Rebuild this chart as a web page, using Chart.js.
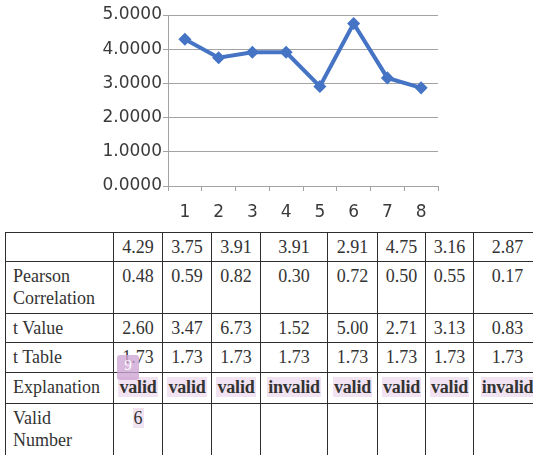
<!DOCTYPE html>
<html>
<head>
<meta charset="utf-8">
<script src="https://cdn.jsdelivr.net/npm/chart.js@4/dist/chart.umd.min.js"></script>
<style>
  html, body { margin: 0; padding: 0; background: #fff; }
  body { width: 533px; height: 455px; overflow: hidden; position: relative; }
  #chartBox { position: absolute; left: 0; top: 0; width: 533px; height: 225px; }
  table.stats {
    position: absolute; left: 5px; top: 232px;
    border-collapse: collapse; table-layout: fixed; width: 536px;
    font-family: "Liberation Serif", "DejaVu Serif", serif; font-size: 18px; color: #333;
  }
  table.stats td {
    border: 1px solid #2e2e2e; padding: 3px 0 0 0; line-height: 22px;
    vertical-align: top; text-align: center; white-space: nowrap; overflow: visible;
  }
  table.stats td.head { text-align: left; padding-left: 7px; white-space: normal; }
  .mark { background: #f1e3f2; font-weight: bold; padding: 0 1px; letter-spacing: -0.2px; }
  .count { background: #f1e3f2; padding: 0 1px; }
  .badge {
    position: absolute; left: 117px; top: 355px; width: 22px; height: 25px;
    background: rgba(206, 164, 212, 0.78); border-radius: 3px; color: #fff;
    font-family: "Liberation Serif", serif; font-size: 15px; line-height: 20px; text-align: center;
  }
</style>
</head>
<body>
<div id="chartBox"><canvas id="c" width="533" height="225"></canvas></div>
<table class="stats" id="stats"></table>
<div class="badge">9</div>
<script>
// Item numbers and their mean scores
const categories = ["1", "2", "3", "4", "5", "6", "7", "8"];
const means = [4.29, 3.75, 3.91, 3.91, 2.91, 4.75, 3.16, 2.87];
// Validity test rows
const pearson = [0.48, 0.59, 0.82, 0.30, 0.72, 0.50, 0.55, 0.17];
const tValue = [2.60, 3.47, 6.73, 1.52, 5.00, 2.71, 3.13, 0.83];
const tTable = [1.73, 1.73, 1.73, 1.73, 1.73, 1.73, 1.73, 1.73];
const explanation = ["valid", "valid", "valid", "invalid", "valid", "valid", "valid", "invalid"];
const validNumber = 6;
const yTicks = [0, 1, 2, 3, 4, 5];

const lineBlue = "#4674c5";
const gridGray = "#a3a3a3";

new Chart(document.getElementById("c"), {
  type: "line",
  data: {
    labels: categories,
    datasets: [{
      data: means,
      borderColor: lineBlue,
      backgroundColor: lineBlue,
      borderWidth: 4,
      pointStyle: "rectRot",
      pointRadius: 5.5,
      pointBorderWidth: 1.5,
      pointBackgroundColor: lineBlue,
      pointBorderColor: lineBlue,
      tension: 0
    }]
  },
  options: {
    responsive: false,
    animation: false,
    devicePixelRatio: 1,
    layout: { padding: { left: 0, right: 95, top: 15, bottom: 0 } },
    plugins: { legend: { display: false }, tooltip: { enabled: false } },
    scales: {
      x: {
        offset: true,
        grid: { display: true, drawOnChartArea: false, drawTicks: true, tickLength: 5, offset: true, color: gridGray },
        border: { display: true, color: gridGray, width: 1 },
        ticks: { color: "#3a3a3a", padding: 11, font: { family: "DejaVu Sans", size: 17 }, maxRotation: 0 },
        afterFit(scale) { scale.height = 39; }
      },
      y: {
        min: yTicks[0],
        max: yTicks[yTicks.length - 1],
        afterBuildTicks(scale) { scale.ticks = yTicks.map(v => ({ value: v })); },
        grid: { color: gridGray, tickLength: 5, drawTicks: true },
        border: { display: true, color: gridGray, width: 1 },
        ticks: {
          color: "#3a3a3a", padding: 1,
          font: { family: "DejaVu Sans", size: 17 },
          callback: v => Number(v).toFixed(4)
        },
        afterFit(scale) { scale.width = 168; }
      }
    }
  }
});

// Build the validity table below the chart
const colWidths = [108, 49, 49, 49, 67, 50, 48, 48, 68];
const rowHeights = [29, 52, 29, 30, 31, 60];
const fmt = v => v.toFixed(2);
const rows = [
  ["", means.map(fmt)],
  ["Pearson<br>Correlation", pearson.map(fmt)],
  ["t Value", tValue.map(fmt)],
  ["t Table", tTable.map(fmt)],
  ["Explanation", explanation.map(e => '<span class="mark">' + e + '</span>')],
  ["Valid<br>Number", ['<span class="count">' + validNumber + '</span>', "", "", "", "", "", "", ""]]
];
const table = document.getElementById("stats");
let html = "<colgroup>" + colWidths.map(w => '<col style="width:' + w + 'px">').join("") + "</colgroup>";
rows.forEach((r, i) => {
  html += '<tr style="height:' + rowHeights[i] + 'px"><td class="head">' + r[0] + "</td>";
  r[1].forEach(c => { html += "<td>" + c + "</td>"; });
  html += "</tr>";
});
table.innerHTML = html;
</script>
</body>
</html>
